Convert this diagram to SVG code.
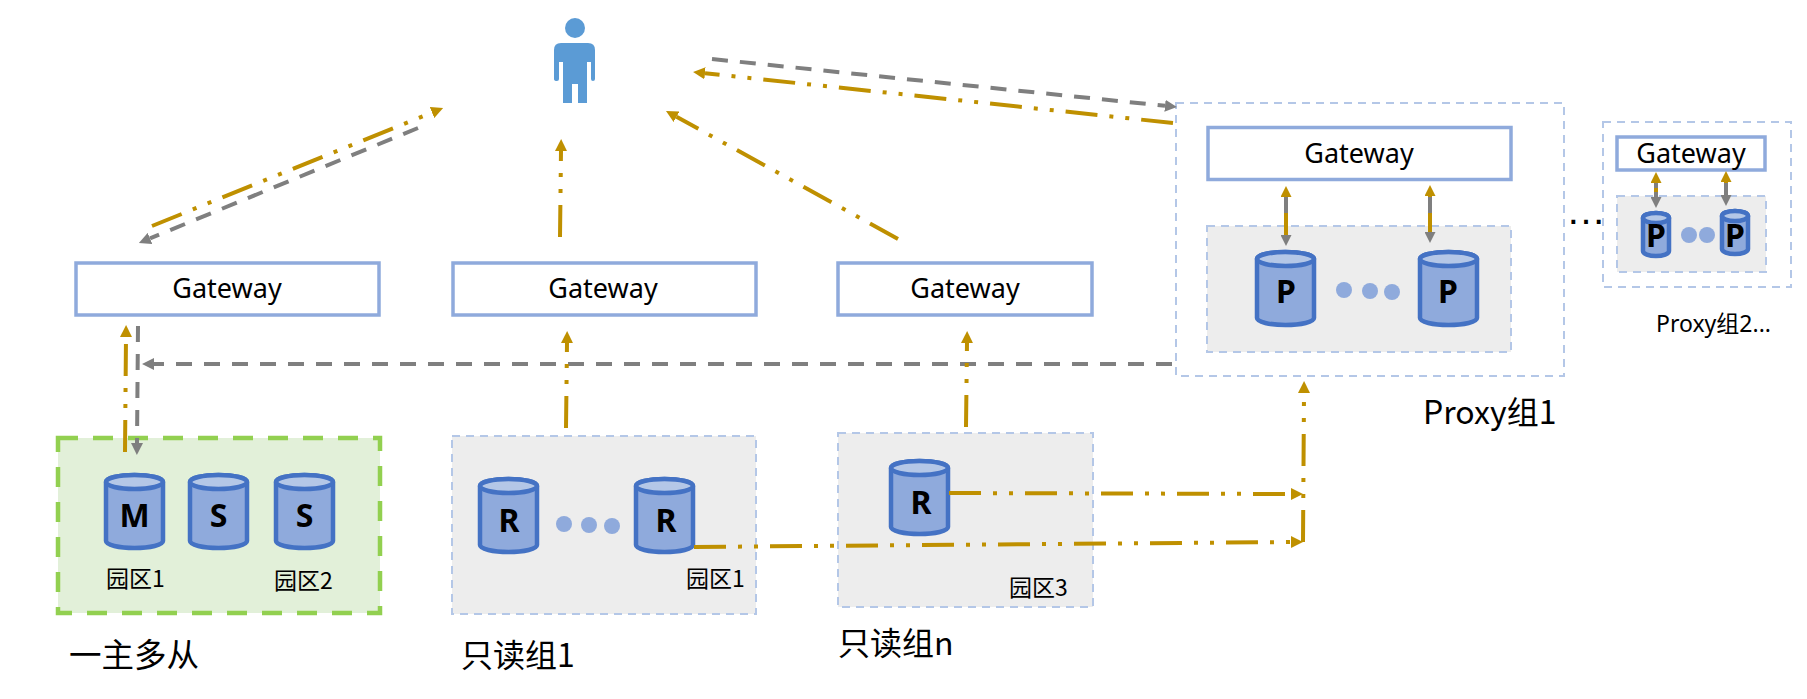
<svg xmlns="http://www.w3.org/2000/svg" width="1807" height="699" viewBox="0 0 1807 699">
<style>
text{font-family:"Noto Sans","Noto Sans CJK SC",sans-serif;fill:#000}
.gw{fill:#fff;stroke:#8faadc;stroke-width:3.5}
.gwt{font-size:27px;text-anchor:middle}
.grp{fill:#ededed;stroke:#b4c7e7;stroke-width:2;stroke-dasharray:8 6}
.out{fill:#fff;stroke:#b4c7e7;stroke-width:2;stroke-dasharray:8 6}
.green{fill:#e2f0d9;stroke:#92d050;stroke-width:4.5;stroke-dasharray:20 15}
.body{fill:#8faadc;stroke:#4472c4;stroke-width:4.5}
.top{fill:#b4c7e7;stroke:#4472c4;stroke-width:4.5}
.ltr{font-size:32px;font-weight:700;text-anchor:middle}
.dot{fill:#8faadc}
.zone{font-size:23px;font-family:"Noto Sans CJK SC","Noto Sans",sans-serif}
.cap{font-size:32px;font-family:"Noto Sans CJK SC","Noto Sans",sans-serif}
.gold{fill:none;stroke:#bf9000;stroke-width:4;stroke-dasharray:32 12 4 12 4 12;marker-end:url(#hg)}
.gray{fill:none;stroke:#7f7f7f;stroke-width:4;stroke-dasharray:16 12;marker-end:url(#hy)}
.g2{fill:none;stroke:#bf9000;stroke-width:4;marker-end:url(#hgs)}
.y2{fill:none;stroke:#7f7f7f;stroke-width:4;marker-end:url(#hys)}
</style>
<defs>
<marker id="hg" markerUnits="userSpaceOnUse" markerWidth="12" markerHeight="12" refX="0" refY="6" orient="auto"><path d="M0 0L12 6L0 12Z" fill="#bf9000"/></marker>
<marker id="hy" markerUnits="userSpaceOnUse" markerWidth="12" markerHeight="12" refX="0" refY="6" orient="auto"><path d="M0 0L12 6L0 12Z" fill="#7f7f7f"/></marker>
<marker id="hgs" markerUnits="userSpaceOnUse" markerWidth="11" markerHeight="11" refX="0" refY="5.500" orient="auto"><path d="M0 0L11 5.500L0 11Z" fill="#bf9000"/></marker>
<marker id="hys" markerUnits="userSpaceOnUse" markerWidth="11" markerHeight="11" refX="0" refY="5.500" orient="auto"><path d="M0 0L11 5.500L0 11Z" fill="#7f7f7f"/></marker>
<g id="cyl"><path class="body" d="M0 9A28.500 7 0 0 1 57 9V68A28.500 7 0 0 1 0 68Z"/><ellipse class="top" cx="28.500" cy="9" rx="28.500" ry="7"/></g>
<g id="cyls"><path class="body" d="M0 5A13 5 0 0 1 26 5V38A13 5 0 0 1 0 38Z"/><ellipse class="top" cx="13" cy="5" rx="13" ry="5"/></g>
</defs>

<g id="person"><circle cx="575" cy="28" r="10" fill="#5b9bd5"/><path fill="#5b9bd5" d="M561 43H588Q595 43 595 50V79Q595 81 593 81Q591 81 591 79V62H587V103H578V84H572V103H563V62H559V79Q559 81 557 81Q554 81 554 79V50Q554 43 561 43Z"/></g>

<g id="master-group"><rect class="green" x="58" y="438" width="322" height="175"/>
<use href="#cyl" x="106" y="473"/><text class="ltr" x="134.500" y="527">M</text>
<use href="#cyl" x="190" y="473"/><text class="ltr" x="218.500" y="527">S</text>
<use href="#cyl" x="276" y="473"/><text class="ltr" x="304.500" y="527">S</text>
<text class="zone" x="106" y="587">园区1</text><text class="zone" x="274" y="589">园区2</text>
<text class="cap" x="69" y="667" style="font-size:32.500px">一主多从</text></g>

<g id="read-group-1"><rect class="grp" x="452" y="436" width="304" height="178"/>
<use href="#cyl" x="480" y="477"/><text class="ltr" x="509" y="532">R</text>
<use href="#cyl" x="636" y="477"/><text class="ltr" x="666" y="532">R</text>
<circle class="dot" cx="564" cy="524" r="8"/><circle class="dot" cx="589" cy="525" r="8"/><circle class="dot" cx="612" cy="526" r="8"/>
<text class="zone" x="686" y="587">园区1</text>
<text class="cap" x="461" y="667">只读组1</text></g>

<g id="read-group-n"><rect class="grp" x="838" y="433" width="255" height="174"/>
<use href="#cyl" x="891" y="459"/><text class="ltr" x="921" y="514">R</text>
<text class="zone" x="1009" y="596">园区3</text>
<text class="cap" x="838" y="655">只读组n</text></g>

<g id="gateway-1"><rect class="gw" x="76" y="263" width="303" height="52"/><text class="gwt" x="227" y="298">Gateway</text></g>
<g id="gateway-2"><rect class="gw" x="453" y="263" width="303" height="52"/><text class="gwt" x="603" y="298">Gateway</text></g>
<g id="gateway-3"><rect class="gw" x="838" y="263" width="254" height="52"/><text class="gwt" x="965" y="298">Gateway</text></g>

<g id="proxy-group-1"><rect class="out" x="1176" y="103" width="388" height="273"/>
<rect class="gw" x="1208" y="127.500" width="303" height="52"/>
<text class="gwt" x="1359" y="163">Gateway</text>
<rect class="grp" x="1207" y="226" width="304" height="126"/>
<use href="#cyl" x="1257" y="250"/><text class="ltr" x="1286" y="303">P</text>
<use href="#cyl" x="1420" y="250"/><text class="ltr" x="1448" y="303">P</text>
<circle class="dot" cx="1344" cy="290" r="8"/><circle class="dot" cx="1370" cy="291" r="8"/><circle class="dot" cx="1392" cy="292" r="8"/>
<text class="cap" x="1423" y="424">Proxy组1</text></g>

<g id="proxy-group-2"><rect class="out" x="1603" y="122" width="188" height="165"/>
<rect class="gw" x="1617" y="137" width="148" height="33"/>
<text class="gwt" x="1691" y="163">Gateway</text>
<rect class="grp" x="1617" y="196" width="149" height="76"/>
<use href="#cyls" x="1643" y="213"/><text class="ltr" x="1656" y="247">P</text>
<use href="#cyls" x="1722" y="211"/><text class="ltr" x="1735" y="247">P</text>
<circle class="dot" cx="1689" cy="235" r="8"/><circle class="dot" cx="1707" cy="235" r="8"/>
<text x="1656" y="332" style="font-size:23px">Proxy组2...</text></g>

<text id="more" x="1566" y="224" style="font-family:'Liberation Sans',sans-serif;font-size:40px">…</text>

<g id="connectors">
<path class="gold" d="M152 226L432 112.500"/>
<path class="gray" d="M418 128L150 238.400"/>
<path class="gold" d="M560 237L561 151"/>
<path class="gold" d="M898 239L676.500 116.800"/>
<path class="gold" d="M1173 123L705 73.300"/>
<path class="gray" d="M712 59L1165 105.800"/>
<path class="gold" d="M125 452L126 337"/>
<path class="gray" d="M138 326L137 443"/>
<path class="gray" d="M1172 364L154 364"/>
<path class="gold" d="M566 428L567 343"/>
<path class="gold" d="M966 427L967 343"/>
<path class="gold" d="M949 493L1291 494"/>
<path class="gold" d="M694 547L1291 542"/>
<path class="gold" d="M1303 542L1304 393"/>
<path class="g2" d="M1286 240V197"/>
<path class="y2" d="M1286 197V235" style="stroke-dasharray:16 22"/>
<path class="g2" d="M1430 238V196"/>
<path class="y2" d="M1430 197V232" style="stroke-dasharray:16 19"/>
<path class="g2" d="M1656 204V183"/>
<path class="y2" d="M1656 183V197" style="stroke-dasharray:5 4"/>
<path class="g2" d="M1726 202V182"/>
<path class="y2" d="M1726 183V195"/>
</g>
</svg>
